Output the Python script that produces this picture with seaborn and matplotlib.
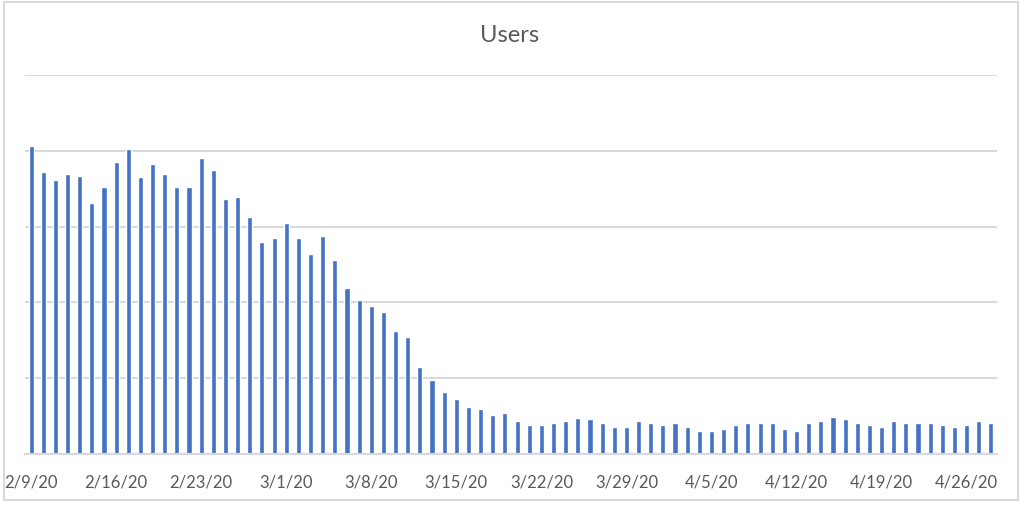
import pandas as pd
import numpy as np
import matplotlib
matplotlib.use("Agg")
import matplotlib.pyplot as plt
import seaborn as sns
from matplotlib.patches import Rectangle

# --- datos (usuarios diarios, 2/9/20 - 4/28/20) ---
dates = pd.date_range("2020-02-09", "2020-04-28", freq="D")
day_labels = [f"{d.month}/{d.day}/{d.strftime('%y')}" for d in dates]

users = [
    4060, 3720, 3620, 3700, 3670, 3310, 3520, 3850, 4030, 3650,
    3830, 3700, 3520, 3520, 3900, 3750, 3360, 3390, 3130, 2800,
    2850, 3050, 2850, 2640, 2870, 2560, 2190, 2030, 1950, 1870,
    1620, 1540, 1150, 980, 820, 720, 620, 590, 510, 540,
    440, 380, 380, 410, 440, 480, 460, 410, 360, 360,
    440, 410, 380, 410, 360, 310, 310, 330, 380, 410,
    410, 410, 330, 310, 410, 440, 490, 460, 410, 380,
    360, 440, 410, 410, 410, 380, 360, 380, 440, 410,
]

tick_labels = ["2/9/20", "2/16/20", "2/23/20", "3/1/20", "3/8/20", "3/15/20",
               "3/22/20", "3/29/20", "4/5/20", "4/12/20", "4/19/20", "4/26/20"]

df = pd.DataFrame({"day": day_labels, "users": users})

# --- estilo ---
sns.set_style("white")
plt.rcParams["font.family"] = ["Lato", "DejaVu Sans"]
grey_txt = "#595959"
grid_col = "#D9D9D9"
bar_col = "#4472C4"

fig = plt.figure(figsize=(10.24, 5.06), dpi=100)
ax = fig.add_axes([25 / 1024, 1 - 455 / 506, 972 / 1024, 379 / 506])

sns.barplot(data=df, x="day", y="users", color=bar_col, width=0.42,
            saturation=1, ax=ax)

ax.set_xlim(-0.5, len(users) - 0.5)
ax.set_ylim(0, 5000)
ax.set_yticks(np.arange(0, 5001, 1000))
ax.yaxis.grid(True, color=grid_col, linewidth=1.5)
ax.set_axisbelow(True)
ax.tick_params(axis="y", left=False, labelleft=False)

# etiquetas centradas en la barra, marcas en el borde de la categoria
label_pos = [day_labels.index(t) for t in tick_labels]
ax.set_xticks(label_pos)
ax.set_xticklabels(tick_labels, fontsize=12, color=grey_txt)
ax.tick_params(axis="x", length=0, pad=14)
ax.set_xticks([p - 0.5 for p in label_pos], minor=True)
ax.tick_params(axis="x", which="minor", length=6, width=1.2, color=grid_col)

for s in ["left", "right", "top"]:
    ax.spines[s].set_visible(False)
ax.spines["bottom"].set_color(grid_col)
ax.spines["bottom"].set_linewidth(1.5)

ax.set_xlabel("")
ax.set_ylabel("")
fig.text(0.498, 1 - 35 / 506, "Users", ha="center", va="center",
         fontsize=17, color=grey_txt)

# borde del area del grafico
fig.patches.append(Rectangle((4 / 1024, 5 / 506), 1014 / 1024, 498 / 506,
                             transform=fig.transFigure, fill=False,
                             edgecolor=grid_col, linewidth=1.5))

fig.savefig("out.png", dpi=100)
